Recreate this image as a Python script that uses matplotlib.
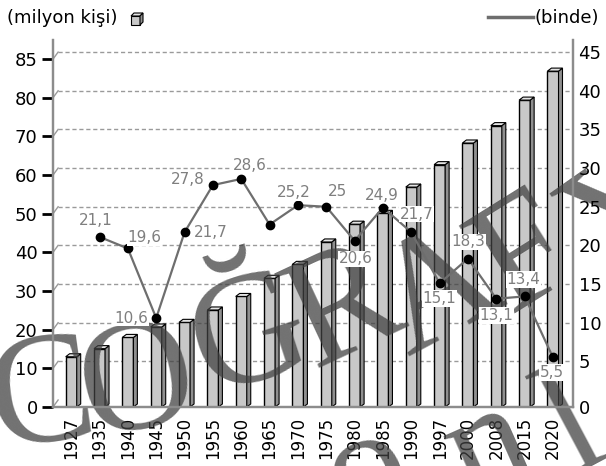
import matplotlib
matplotlib.use("Agg")
import matplotlib.pyplot as plt
import numpy as np
from matplotlib.patches import Polygon, Rectangle
from matplotlib.lines import Line2D

# nüfus (milyon kişi) ve nüfus artış hızı (binde)
years = ["1927", "1935", "1940", "1945", "1950", "1955", "1960", "1965", "1970",
         "1975", "1980", "1985", "1990", "1997", "2000", "2008", "2015", "2020"]
population = [13.0, 15.1, 18.0, 20.7, 21.9, 25.1, 28.6, 33.3, 36.9,
              42.7, 47.3, 50.1, 56.9, 62.7, 68.3, 72.8, 79.4, 86.9]
growth = [np.nan, 21.1, 19.6, 10.6, 21.7, 27.8, 28.6, 22.7, 25.2,
          25.0, 20.6, 24.9, 21.7, 15.1, 18.3, 13.1, 13.4, 5.5]
growth_labels = ["", "21,1", "19,6", "10,6", "21,7", "27,8", "28,6", "", "25,2",
                 "25", "20,6", "24,9", "21,7", "15,1", "18,3", "13,1", "13,4", "5,5"]
# label offsets in points (dx, dy)
label_offsets = [(0, 0), (-3, 12), (12, 8), (-18, 0), (19, 0), (-18, 4), (6, 10), (0, 0), (-3, 9),
                 (8, 11), (1, -13), (-1, 9), (4, 13), (0, -11), (0, 12), (0, -12), (-1, 12), (-1, -11)]

left_ticks = [0, 10, 20, 30, 40, 50, 60, 70, 80, 90]
left_ticklabels = ["0", "10", "20", "30", "40", "50", "60", "70", "80", "85"]
right_ticks = [0, 5, 10, 15, 20, 25, 30, 35, 40, 45]

# watermark letters: (char, x px, y px from top, rotation)
wm_letters = [("C", 42, 402, 8), ("O", 138, 388, 12), ("Ğ", 250, 340, 18),
              ("R", 345, 311, 25), ("A", 440, 295, 28), ("F", 527, 258, 32),
              ("Y", 632, 215, 35),
              ("o", 368, 475, 20), ("n", 490, 452, 24), ("l", 575, 430, 28)]

GRAY = "#8c8c8c"
LINE = "#6e6e6e"
LABEL = "#7f7f7f"
W, H = 606, 466

fig = plt.figure(figsize=(6.06, 4.66), dpi=100)
ax = fig.add_axes([53 / W, 59 / H, 520 / W, 367 / H])
ax2 = ax.twinx()

x = np.arange(len(years))
xlim = (-0.642, 17.706)
ax.set_xlim(xlim)
ax.set_ylim(0, 94.95)
back = 0.906  # back wall shift in right-axis units
ax2.set_ylim(-back, 46.57)

# back wall grid with small perspective slants (drawn in left-axis units)
gx0 = xlim[0] + 0.18
for v in right_ticks[1:]:
    ax.plot([gx0, xlim[1]], [2 * (v + back)] * 2, color="#9a9a9a", lw=1, ls=(0, (3, 2)), zorder=1)
for v in right_ticks:
    ax.plot([xlim[0], gx0], [2 * v, 2 * (v + back)], color="#9a9a9a", lw=1, zorder=1)

# 3d-looking bars
w = 0.39
dx, dy = 0.14, 0.78
ax.bar(x, population, width=w, color="#c8c8c8", edgecolor="black", lw=1, zorder=2)
for xi, h in zip(x, population):
    side = [(xi + w / 2, 0), (xi + w / 2 + dx, dy), (xi + w / 2 + dx, h + dy), (xi + w / 2, h)]
    top = [(xi - w / 2, h), (xi - w / 2 + dx, h + dy), (xi + w / 2 + dx, h + dy), (xi + w / 2, h)]
    ax.add_patch(Polygon(side, closed=True, fc="#8f8f8f", ec="black", lw=0.8, zorder=2))
    ax.add_patch(Polygon(top, closed=True, fc="#e4e4e4", ec="black", lw=0.8, zorder=2))

# watermark: above the bars, below tick labels and the growth line
for ch, px, py, rot in wm_letters:
    ax.text(px / W, 1 - py / H, ch, transform=fig.transFigure, family="Liberation Serif",
            fontsize=114, color="#404040", alpha=0.74, rotation=rot, rotation_mode="anchor",
            ha="center", va="center", zorder=2.4, clip_on=False)

# growth line
ax.set_zorder(0)
ax2.set_zorder(1)
ax2.patch.set_visible(False)
ax2.plot(x, growth, color=LINE, lw=1.6, marker="o", markersize=6,
         markerfacecolor="black", markeredgecolor="black", zorder=5)
for xi, g, lab, (ox, oy) in zip(x, growth, growth_labels, label_offsets):
    if lab:
        ax2.annotate(lab, (xi, g), xytext=(ox, oy), textcoords="offset points",
                     ha="center", va="center", fontsize=11, color=LABEL, zorder=6,
                     bbox=dict(boxstyle="square,pad=0.05", fc="white", ec="none"))

# axes styling
ax.set_xticks(x)
ax.set_xticklabels(years, rotation=90, fontsize=12)
ax.tick_params(axis="x", length=0, pad=7)
ax.set_yticks(left_ticks)
ax.set_yticklabels(left_ticklabels, fontsize=13)
ax.tick_params(axis="y", length=8, width=2, color="black", pad=3)

ax2.set_yticks([t if t else -back for t in right_ticks])
ax2.set_yticklabels([str(t) for t in right_ticks], fontsize=13)
ax2.tick_params(axis="y", length=0, pad=4)

for a in (ax, ax2):
    a.spines["top"].set_visible(False)
    for s in ("left", "right", "bottom"):
        a.spines[s].set_color(GRAY)
        a.spines[s].set_linewidth(1.6)

# header texts
fig.text(7 / W, 1 - 18 / H, "(milyon kişi)", fontsize=13, ha="left", va="center")
fig.patches.append(Rectangle((131 / W, 1 - 25 / H), 9 / W, 9 / H, transform=fig.transFigure,
                             fc="#c8c8c8", ec="black", lw=0.8))
fig.patches.append(Polygon([(131 / W, 1 - 16 / H), (134 / W, 1 - 13 / H),
                            (143 / W, 1 - 13 / H), (140 / W, 1 - 16 / H)],
                           closed=True, transform=fig.transFigure, fc="#e4e4e4", ec="black", lw=0.8))
fig.patches.append(Polygon([(140 / W, 1 - 16 / H), (143 / W, 1 - 13 / H),
                            (143 / W, 1 - 22 / H), (140 / W, 1 - 25 / H)],
                           closed=True, transform=fig.transFigure, fc="#8f8f8f", ec="black", lw=0.8))
fig.lines.append(Line2D([488 / W, 533 / W], [1 - 17 / H, 1 - 17 / H],
                        transform=fig.transFigure, color=LINE, lw=2.5))
fig.text(535 / W, 1 - 18 / H, "(binde)", fontsize=13, ha="left", va="center")

fig.savefig("out.png", dpi=100)
